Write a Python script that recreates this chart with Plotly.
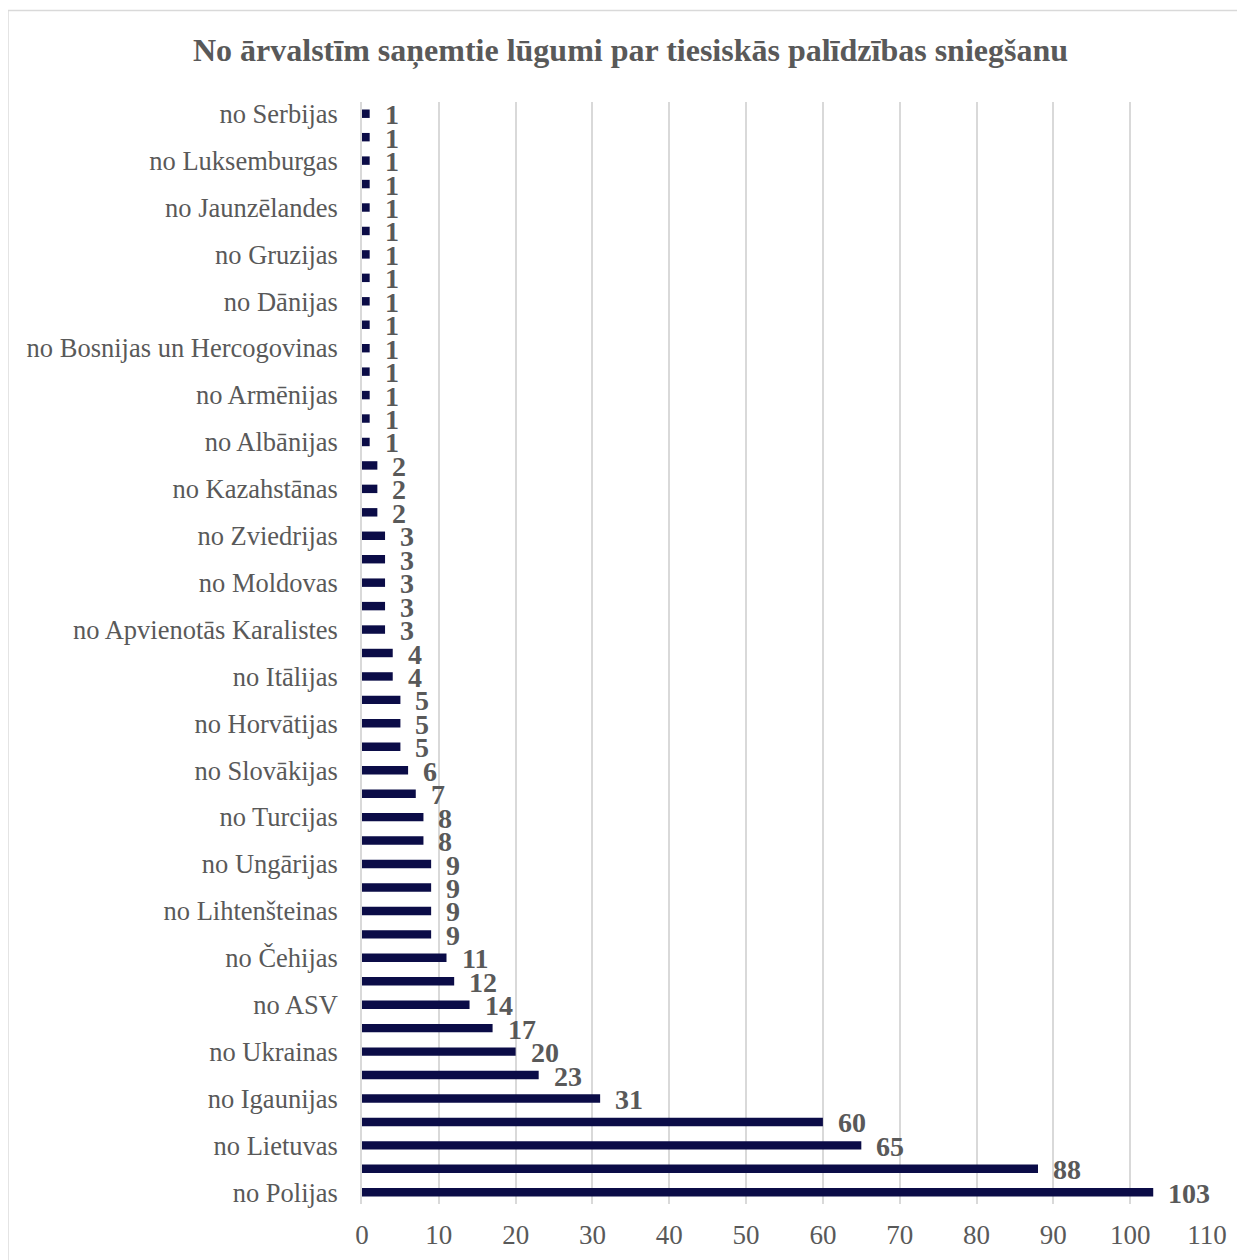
import plotly.graph_objects as go

# bottom-to-top order (as drawn); only every other category is labelled in the source
values = [103, 88, 65, 60, 31, 23, 20, 17, 14, 12, 11, 9, 9, 9, 9, 8, 8, 7, 6,
          5, 5, 5, 4, 4, 3, 3, 3, 3, 3, 2, 2, 2,
          1, 1, 1, 1, 1, 1, 1, 1, 1, 1, 1, 1, 1, 1, 1]
tick_labels = ["no Polijas", "no Lietuvas", "no Igaunijas", "no Ukrainas", "no ASV",
               "no Čehijas", "no Lihtenšteinas", "no Ungārijas", "no Turcijas",
               "no Slovākijas", "no Horvātijas", "no Itālijas",
               "no Apvienotās Karalistes", "no Moldovas", "no Zviedrijas",
               "no Kazahstānas", "no Albānijas", "no Armēnijas",
               "no Bosnijas un Hercogovinas", "no Dānijas", "no Gruzijas",
               "no Jaunzēlandes", "no Luksemburgas", "no Serbijas"]
x_ticks = [0, 10, 20, 30, 40, 50, 60, 70, 80, 90, 100, 110]
title = "No ārvalstīm saņemtie lūgumi par tiesiskās palīdzības sniegšanu"

positions = list(range(len(values)))
label_positions = positions[::2]

TXT = "#595959"
FONT = "Liberation Serif, Times New Roman, serif"

fig = go.Figure()
fig.add_trace(go.Bar(
    x=values, y=positions, orientation="h",
    marker=dict(color="#0b0c47", line=dict(width=0)),
    width=0.36, hoverinfo="skip",
))
for v, p in zip(values, positions):
    fig.add_annotation(x=v, y=p, text=f"<b>{v}</b>", showarrow=False,
                       xanchor="left", yanchor="middle", xshift=13, yshift=-1,
                       font=dict(family=FONT, size=28, color=TXT))

fig.update_layout(
    width=1245, height=1260,
    paper_bgcolor="white", plot_bgcolor="white",
    margin=dict(l=354, r=46, t=94, b=64),
    showlegend=False,
    title=dict(text=f"<b>{title}</b>", x=0.5, xanchor="center", y=0.9667, yanchor="middle",
               font=dict(family=FONT, size=32, color=TXT)),
    font=dict(family=FONT, color=TXT),
    xaxis=dict(range=[0, 110], tickvals=x_ticks, showgrid=True, gridcolor="#d9d9d9",
               gridwidth=1.5, zeroline=False, showline=False, ticks="",
               ticklabelstandoff=12,
               tickfont=dict(family=FONT, size=27, color=TXT), fixedrange=True),
    yaxis=dict(range=[-0.5, len(values) - 0.5], tickvals=label_positions,
               ticktext=tick_labels, showgrid=False, zeroline=False,
               showline=True, linecolor="#d9d9d9", linewidth=1.5, ticks="",
               ticklabelstandoff=17,
               tickfont=dict(family=FONT, size=26.5, color=TXT), fixedrange=True),
    shapes=[dict(type="rect", xref="paper", yref="paper", x0=-0.419, x1=1.07,
                 y0=-0.07, y1=1.083, line=dict(color="#d9d9d9", width=1.5),
                 fillcolor="rgba(0,0,0,0)", layer="below")],
)
fig.write_html("out.html")
